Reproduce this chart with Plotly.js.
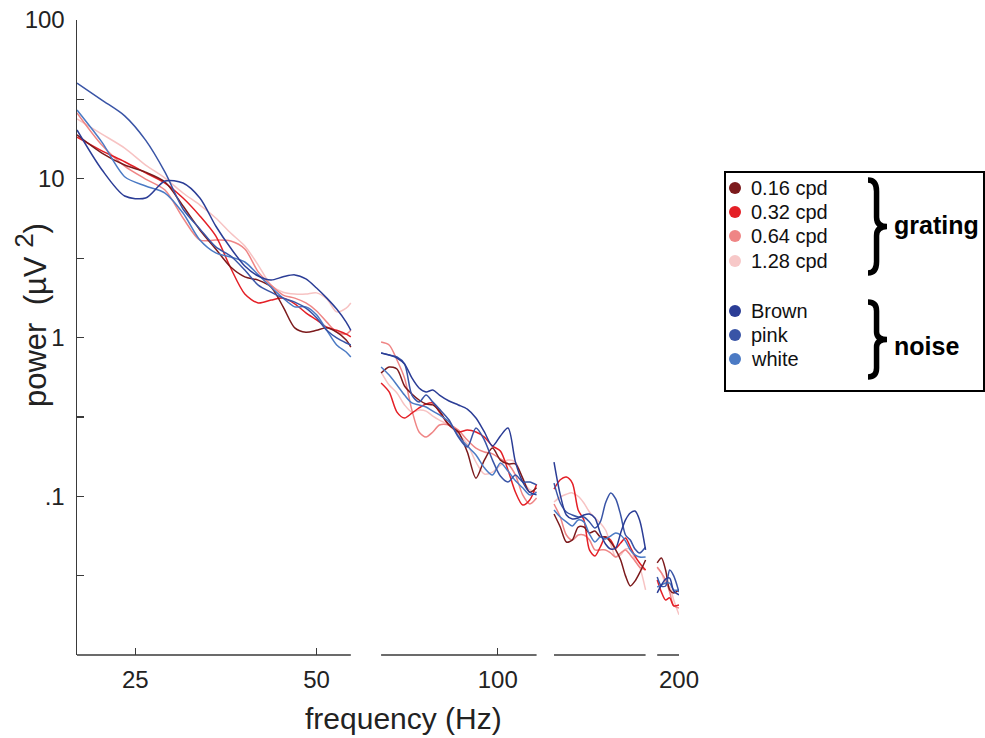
<!DOCTYPE html>
<html><head><meta charset="utf-8">
<script src="https://cdn.plot.ly/plotly-3.0.1.min.js"></script>
<style>html,body{margin:0;padding:0;background:#fff}</style>
</head><body>
<div id="chart" style="width:985px;height:738px"></div>
<script>
// Frequencies (Hz); null separates the segments around 60/120/180 Hz line noise
const frequency = [20,22,24,26,28,30,32,34,36,38,40,42,44,46,48,50,52,54,56,57, null,
  64,66,68,70,72,74,76,78,80,83,86,89,92,95,98,101,104,107,110,113,116, null,
  124,127,130,133,136,139,142,145,148,151,154,157,160,163,166,169,172,176, null,
  184,187,190,193,196,200];

// power (µV^2)
const grating016 = [18.9,14.5,12.2,11.0,9.54,6.73,4.76,3.61,2.78,2.41,2.30,2.08,1.56,1.15,1.08,1.11,1.15,1.08,0.964,0.871, null,
  0.598,0.652,0.633,0.495,0.441,0.404,0.381,0.376,0.344,0.281,0.254,0.190,0.130,0.169,0.201,0.169,0.160,0.160,0.130,0.106,0.113, null,
  0.0773,0.0640,0.0515,0.0530,0.0640,0.0640,0.0587,0.0604,0.0554,0.0554,0.0515,0.0459,0.0397,0.0315,0.0272,0.0292,0.0329,0.0397, null,
  0.0380,0.0408,0.0343,0.0257,0.0246,0.0257];
const grating032 = [18.3,15.0,12.8,10.9,9.40,7.56,5.83,4.36,2.74,1.88,1.65,1.72,1.77,1.63,1.43,1.29,1.16,1.11,1.05,1.01, null,
  0.517,0.454,0.339,0.311,0.334,0.360,0.381,0.387,0.339,0.281,0.254,0.261,0.254,0.236,0.207,0.193,0.146,0.106,0.0881,0.0947,0.119, null,
  0.111,0.127,0.132,0.121,0.0819,0.0709,0.0459,0.0420,0.0479,0.0554,0.0530,0.0472,0.0508,0.0546,0.0479,0.0420,0.0380,0.0343, null,
  0.0297,0.0249,0.0222,0.0229,0.0204,0.0207];
const grating064 = [26.0,16.3,12.0,9.96,8.50,5.66,4.11,4.11,4.05,3.61,2.59,2.14,1.85,1.77,1.65,1.47,1.25,1.08,1.05,1.11, null,
  0.937,0.897,0.722,0.556,0.349,0.254,0.236,0.254,0.281,0.281,0.261,0.226,0.201,0.190,0.185,0.172,0.160,0.136,0.102,0.0894,0.0975, null,
  0.0894,0.0740,0.0570,0.0530,0.0570,0.0570,0.0530,0.0459,0.0459,0.0459,0.0439,0.0414,0.0439,0.0459,0.0427,0.0391,0.0358,0.0343, null,
  0.0358,0.0329,0.0297,0.0249,0.0204,0.0198];
const grating128 = [23.8,19.1,15.6,12.2,10.1,8.13,6.83,5.66,4.55,3.77,2.86,2.14,1.93,1.88,1.88,1.91,1.75,1.45,1.53,1.65, null,
  0.606,0.502,0.447,0.376,0.339,0.349,0.344,0.320,0.302,0.281,0.247,0.213,0.164,0.138,0.142,0.157,0.169,0.164,0.127,0.110,0.106, null,
  0.0920,0.0989,0.103,0.105,0.100,0.0907,0.0796,0.0729,0.0679,0.0613,0.0500,0.0414,0.0427,0.0465,0.0465,0.0397,0.0358,0.0257, null,
  0.0353,0.0329,0.0280,0.0268,0.0222,0.0179];
const noiseBrown = [20.3,11.4,7.79,7.56,9.68,9.40,7.56,5.04,3.66,2.82,2.44,2.30,2.41,2.48,2.34,2.05,1.77,1.51,1.25,1.11, null,
  0.799,0.776,0.743,0.681,0.556,0.481,0.454,0.467,0.434,0.398,0.376,0.354,0.311,0.254,0.207,0.240,0.269,0.164,0.123,0.106,0.102, null,
  0.164,0.102,0.0762,0.0719,0.0729,0.0762,0.0773,0.0729,0.0587,0.0500,0.0465,0.0472,0.0587,0.0709,0.0784,0.0807,0.0709,0.0459, null,
  0.0246,0.0276,0.0301,0.0305,0.0253,0.0239];
const noisePink = [40.1,31.3,24.9,17.5,11.0,6.45,4.83,3.72,3.26,2.66,2.14,1.93,1.77,1.67,1.53,1.33,1.11,0.993,0.923,0.897, null,
  0.799,0.776,0.754,0.681,0.434,0.392,0.434,0.392,0.354,0.302,0.236,0.204,0.269,0.226,0.169,0.134,0.123,0.136,0.123,0.123,0.118, null,
  0.121,0.0907,0.0796,0.0762,0.0740,0.0740,0.0689,0.0631,0.0689,0.0907,0.105,0.0962,0.0762,0.0570,0.0530,0.0465,0.0439,0.0479, null,
  0.0310,0.0272,0.0272,0.0343,0.0315,0.0249];
const noiseWhite = [27.1,17.0,10.3,9.00,8.13,6.08,4.11,3.41,3.21,2.99,2.48,2.08,1.77,1.56,1.56,1.39,1.11,0.897,0.810,0.754, null,
  0.652,0.580,0.502,0.434,0.387,0.376,0.365,0.344,0.325,0.294,0.240,0.207,0.182,0.151,0.136,0.162,0.144,0.125,0.113,0.102,0.106, null,
  0.0819,0.0740,0.0689,0.0650,0.0709,0.0689,0.0578,0.0515,0.0554,0.0538,0.0562,0.0587,0.0570,0.0522,0.0459,0.0427,0.0414,0.0414, null,
  0.0268,0.0276,0.0284,0.0284,0.0257,0.0257];

const seriesNames = ['1.28 cpd','0.64 cpd','0.32 cpd','0.16 cpd','white','pink','Brown'];
const seriesValues = [grating128, grating064, grating032, grating016, noiseWhite, noisePink, noiseBrown];
const seriesColors = ['#f7c3c3','#ef8585','#e41f26','#7c1a1c','#4b7ac4','#3954a6','#2b3d96'];

const xTickVals = [25,50,100,200];
const xTickText = ['25','50','100','200'];
const yTickVals = [0.1,1,10,100];
const yTickText = ['.1','1','10','100'];
const yMinorTickVals = [0.0316,0.316,3.16,31.6];

const legendGrating = ['0.16 cpd','0.32 cpd','0.64 cpd','1.28 cpd'];
const legendGratingColors = ['#7c1a1c','#e41f26','#ef8585','#f7c8c8'];
const legendNoise = ['Brown','pink','white'];
const legendNoiseColors = ['#2b3d96','#3954a6','#4b7ac4'];

const FONT = 'Liberation Sans, Arial, sans-serif';
const L = 77, R = 679, T = 20, B = 655;
const px = x => (x - L) / (R - L);
const py = y => (B - y) / (B - T);
const XMIN = Math.log10(20), XMAX = Math.log10(200);
const fx = f => (Math.log10(f) - XMIN) / (XMAX - XMIN);

const traces = seriesValues.map((v, i) => ({
  x: frequency, y: v, type: 'scatter', mode: 'lines', name: seriesNames[i],
  line: {color: seriesColors[i], width: 1.5, shape: 'spline', smoothing: 0.8},
  connectgaps: false, hoverinfo: 'skip'
}));

// broken x-axis line: one segment per run of frequencies
const shapes = [];
let segStart = null, prev = null;
frequency.concat([null]).forEach(f => {
  if (f === null) {
    if (segStart !== null) shapes.push({type:'line', xref:'paper', yref:'paper',
      x0: fx(segStart), x1: fx(prev), y0: 0, y1: 0,
      line:{color:'#3a3a3a', width:1.5}});
    segStart = null;
  } else { if (segStart === null) segStart = f; prev = f; }
});

// legend box
shapes.push({type:'rect', xref:'paper', yref:'paper', x0:px(725), x1:px(984), y0:py(391), y1:py(172),
  line:{color:'#000', width:2}, fillcolor:'rgba(0,0,0,0)'});

// curly braces of the legend groups
function bracePath(xl, xr, y0, y1) {
  const xs = xl + 0.45 * (xr - xl), h = y1 - y0, ym = (y0 + y1) / 2;
  const P = (x, y) => px(x).toFixed(5) + ',' + py(y).toFixed(5);
  return 'M' + P(xl, y0) + ' Q' + P(xs, y0) + ' ' + P(xs, y0 + h * 0.12) +
    ' L' + P(xs, ym - h * 0.1) + ' Q' + P(xs, ym) + ' ' + P(xr, ym) +
    ' Q' + P(xs, ym) + ' ' + P(xs, ym + h * 0.1) +
    ' L' + P(xs, y1 - h * 0.12) + ' Q' + P(xs, y1) + ' ' + P(xl, y1);
}
shapes.push({type:'path', xref:'paper', yref:'paper', path:bracePath(868, 887, 180, 273), line:{color:'#000', width:5.5}});
shapes.push({type:'path', xref:'paper', yref:'paper', path:bracePath(868, 887, 302, 377), line:{color:'#000', width:5.5}});

const annotations = [
  {text:'frequency (Hz)', x:px(403), y:py(718), xref:'paper', yref:'paper', showarrow:false,
   xanchor:'center', yanchor:'middle', font:{family:FONT, size:30, color:'#222'}},
  {text:'power  (µV <sup><span style="font-size:26px">2</span></sup>)', x:px(31), y:py(315), xref:'paper', yref:'paper', showarrow:false,
   textangle:-90, xanchor:'center', yanchor:'middle', font:{family:FONT, size:31, color:'#222'}},
  {text:'<b>grating</b>', x:px(892), y:py(225), xref:'paper', yref:'paper', showarrow:false, xanchor:'left', yanchor:'middle',
   font:{family:FONT, size:25, color:'#000'}},
  {text:'<b>noise</b>', x:px(892), y:py(346), xref:'paper', yref:'paper', showarrow:false, xanchor:'left', yanchor:'middle',
   font:{family:FONT, size:25, color:'#000'}}
];
const gY = [188, 212, 236, 261], nY = [311, 335, 359];
legendGrating.forEach((t, i) => {
  annotations.push({text:t, x:px(749), y:py(gY[i]), xref:'paper', yref:'paper', showarrow:false, xanchor:'left', yanchor:'middle',
    font:{family:FONT, size:20, color:'#111'}});
  shapes.push({type:'circle', xref:'paper', yref:'paper', x0:px(729), x1:px(741), y0:py(gY[i]+6), y1:py(gY[i]-6),
    fillcolor:legendGratingColors[i], line:{width:0}});
});
legendNoise.forEach((t, i) => {
  annotations.push({text:t, x:px(749), y:py(nY[i]), xref:'paper', yref:'paper', showarrow:false, xanchor:'left', yanchor:'middle',
    font:{family:FONT, size:20, color:'#111'}});
  shapes.push({type:'circle', xref:'paper', yref:'paper', x0:px(729), x1:px(741), y0:py(nY[i]+6), y1:py(nY[i]-6),
    fillcolor:legendNoiseColors[i], line:{width:0}});
});

const layout = {
  width:985, height:738, margin:{l:L, r:985-R, t:T, b:738-B},
  paper_bgcolor:'#fff', plot_bgcolor:'#fff', showlegend:false,
  font:{family:FONT, color:'#222'},
  xaxis:{type:'log', range:[XMIN, XMAX], tickmode:'array', tickvals:xTickVals, ticktext:xTickText,
    ticks:'inside', ticklen:7, tickwidth:1.2, tickcolor:'#3a3a3a', showline:false, showgrid:false, zeroline:false,
    tickfont:{family:FONT, size:24, color:'#222'}, ticklabelstandoff:8},
  yaxis:{type:'log', range:[-2, 2], tickmode:'array', tickvals:yTickVals, ticktext:yTickText,
    ticks:'inside', ticklen:7, tickwidth:1.2, tickcolor:'#3a3a3a', showline:true, linecolor:'#3a3a3a', linewidth:1.5,
    minor:{tickmode:'array', tickvals:yMinorTickVals, ticks:'inside', ticklen:7, tickwidth:1.2, tickcolor:'#3a3a3a', showgrid:false},
    showgrid:false, zeroline:false, tickfont:{family:FONT, size:24, color:'#222'}, ticklabelstandoff:6},
  shapes:shapes, annotations:annotations
};

Plotly.newPlot('chart', traces, layout, {displayModeBar:false, staticPlot:true}).then(() => {
  // drop empty placeholder text nodes (unused axis titles)
  document.querySelectorAll('#chart text').forEach(t => { if (!t.textContent.trim()) t.remove(); });
});
</script>
</body></html>
